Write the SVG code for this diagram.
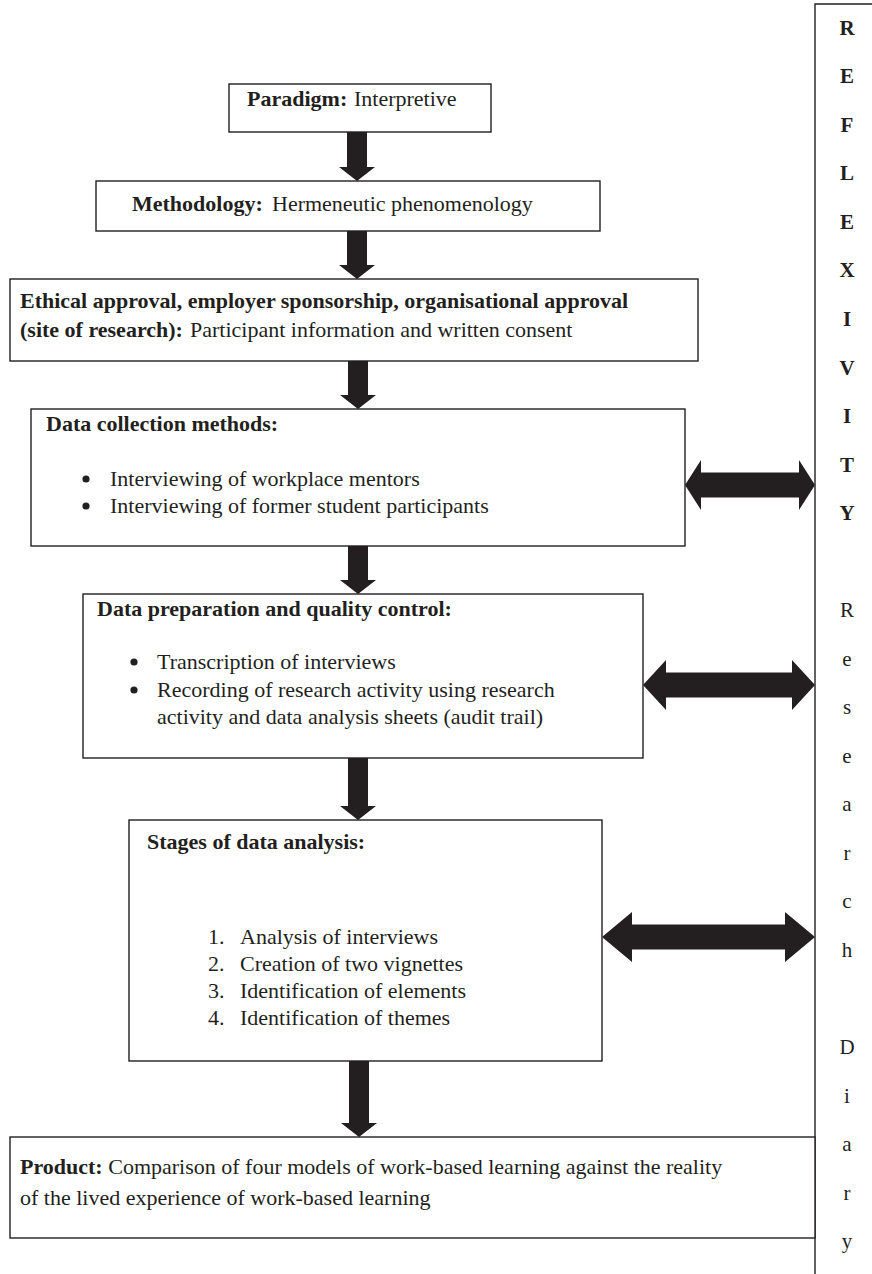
<svg xmlns="http://www.w3.org/2000/svg" width="872" height="1274" viewBox="0 0 872 1274">
<style>
.box{fill:#fff;stroke:#231f20;stroke-width:1.4}
.arr{fill:#231f20;stroke:none}
text{font-family:"Liberation Serif","Times New Roman",serif;font-size:22px;fill:#231f20}
.b{font-weight:bold}
.col{text-anchor:middle;font-size:21px}
.dot{fill:#231f20}
</style>
<rect width="872" height="1274" fill="#fff"/>
<g id="connectors">
<polygon class="arr" points="347,132 367,132 367,167 375,167 357,181 339,167 347,167"/>
<polygon class="arr" points="347,231 367,231 367,265 375,265 357,279 339,265 347,265"/>
<polygon class="arr" points="348,361 368,361 368,395 376,395 358,409 340,395 348,395"/>
<polygon class="arr" points="348,546 368,546 368,580 376,580 358,594 340,580 348,580"/>
<polygon class="arr" points="348,758 368,758 368,806 376,806 358,820 340,806 348,806"/>
<polygon class="arr" points="349,1061 369,1061 369,1123 377,1123 359,1137 341,1123 349,1123"/>
<polygon class="arr" points="685,485 701,460 701,472.5 799,472.5 799,460 815,485 799,510 799,497.5 701,497.5 701,510"/>
<polygon class="arr" points="643,685 666,660 666,672.5 792,672.5 792,660 815,685 792,710 792,697.5 666,697.5 666,710"/>
<polygon class="arr" points="602,937 632,912 632,924.5 785,924.5 785,912 815,937 785,962 785,949.5 632,949.5 632,962"/>
</g>
<g id="reflexivity">
<path d="M815,1274 V4 H872" fill="none" stroke="#231f20" stroke-width="1.4"/>
<text class="b col" x="847" y="35">R</text>
<text class="b col" x="847" y="83">E</text>
<text class="b col" x="847" y="132">F</text>
<text class="b col" x="847" y="180">L</text>
<text class="b col" x="847" y="229">E</text>
<text class="b col" x="847" y="277">X</text>
<text class="b col" x="847" y="326">I</text>
<text class="b col" x="847" y="375">V</text>
<text class="b col" x="847" y="423">I</text>
<text class="b col" x="847" y="472">T</text>
<text class="b col" x="847" y="520">Y</text>
<text class="col" x="847" y="617">R</text>
<text class="col" x="847" y="666">e</text>
<text class="col" x="847" y="714">s</text>
<text class="col" x="847" y="763">e</text>
<text class="col" x="847" y="811">a</text>
<text class="col" x="847" y="860">r</text>
<text class="col" x="847" y="908">c</text>
<text class="col" x="847" y="957">h</text>
<text class="col" x="847" y="1054">D</text>
<text class="col" x="847" y="1103">i</text>
<text class="col" x="847" y="1151">a</text>
<text class="col" x="847" y="1200">r</text>
<text class="col" x="847" y="1248">y</text>
</g>
<g id="paradigm">
<rect class="box" x="229" y="84" width="262" height="48"/>
<text x="247" y="106"><tspan class="b">Paradigm:</tspan><tspan x="354">Interpretive</tspan></text>
</g>
<g id="methodology">
<rect class="box" x="96" y="181" width="504" height="50"/>
<text x="132" y="211"><tspan class="b">Methodology:</tspan><tspan x="272">Hermeneutic phenomenology</tspan></text>
</g>
<g id="ethical">
<rect class="box" x="10" y="279" width="688" height="82"/>
<text class="b" x="20" y="308">Ethical approval, employer sponsorship, organisational approval</text>
<text x="20" y="337"><tspan class="b">(site of research):</tspan><tspan x="190">Participant information and written consent</tspan></text>
</g>
<g id="data-collection">
<rect class="box" x="31" y="409" width="654" height="137"/>
<text class="b" x="46" y="431">Data collection methods:</text>
<circle class="dot" cx="86" cy="479" r="3.6"/>
<text x="110" y="486">Interviewing of workplace mentors</text>
<circle class="dot" cx="86" cy="506" r="3.6"/>
<text x="110" y="513">Interviewing of former student participants</text>
</g>
<g id="data-preparation">
<rect class="box" x="83" y="594" width="560" height="164"/>
<text class="b" x="97" y="616">Data preparation and quality control:</text>
<circle class="dot" cx="134" cy="662" r="3.6"/>
<text x="157" y="669">Transcription of interviews</text>
<circle class="dot" cx="134" cy="690" r="3.6"/>
<text x="157" y="697">Recording of research activity using research</text>
<text x="157" y="724">activity and data analysis sheets (audit trail)</text>
</g>
<g id="data-analysis">
<rect class="box" x="129" y="820" width="473" height="241"/>
<text class="b" x="147" y="849">Stages of data analysis:</text>
<text x="208" y="944">1.</text><text x="240" y="944">Analysis of interviews</text>
<text x="208" y="971">2.</text><text x="240" y="971">Creation of two vignettes</text>
<text x="208" y="998">3.</text><text x="240" y="998">Identification of elements</text>
<text x="208" y="1025">4.</text><text x="240" y="1025">Identification of themes</text>
</g>
<g id="product">
<rect class="box" x="10" y="1137" width="805" height="101"/>
<text x="20" y="1174"><tspan class="b">Product:</tspan> Comparison of four models of work-based learning against the reality</text>
<text x="20" y="1205">of the lived experience of work-based learning</text>
</g>
</svg>
